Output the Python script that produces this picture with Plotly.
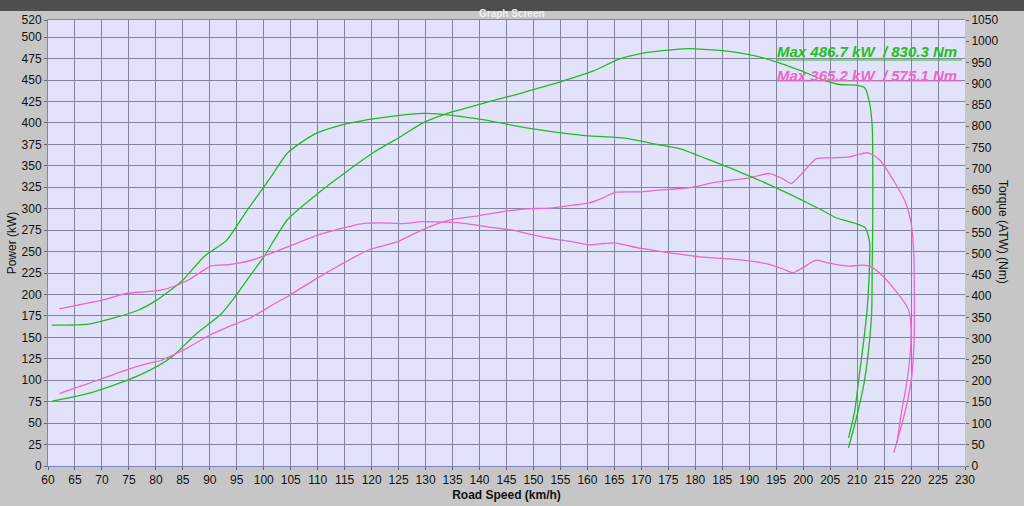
import plotly.graph_objects as go

# ---------------- data ----------------
green_power_speed = [60.8, 67.9, 75.1, 80.3, 83.1, 87.7, 92.0, 94.5, 97.6, 100.1, 104.4, 109.4, 114.0, 120.2,
                     125.5, 129.5, 133.8, 140.0, 143.1, 146.2, 151.1, 154.8, 157.3, 161.0, 166.0, 169.7, 173.1,
                     178.6, 183.9, 188.2, 191.3, 195.0, 199.3, 203.6, 206.7, 209.8, 211.4, 212.3, 212.8, 212.9,
                     212.8, 212.7, 212.2, 211.4, 210.8, 209.8, 208.4]
green_power_kw = [75.6, 85.3, 100.9, 116.4, 128.0, 155.3, 176.6, 196.0, 223.0, 244.6, 287.4, 314.6, 337.0, 365.0,
                  384.5, 400.0, 410.6, 421.5, 427.3, 432.0, 441.0, 447.5, 452.6, 460.3, 474.8, 480.6, 483.6,
                  486.7, 484.8, 481.7, 477.8, 471.3, 461.5, 450.6, 444.8, 444.0, 441.0, 423.5, 396.0, 287.4,
                  236.9, 178.6, 139.7, 100.9, 81.4, 54.2, 21.2]

green_torque_speed = [60.7, 67.9, 76.6, 80.3, 84.9, 89.0, 93.1, 97.0, 101.3, 104.4, 109.4, 114.0, 117.4, 125.5,
                      129.5, 133.2, 140.9, 149.0, 156.7, 161.0, 164.7, 167.8, 172.6, 177.7, 180.5, 188.2, 195.9,
                      203.6, 206.1, 209.8, 211.5, 212.3, 212.2, 211.8, 211.1, 210.3, 209.5, 208.4]
green_torque_nm = [331.6, 334.8, 366.1, 391.7, 436.2, 493.9, 531.1, 603.7, 679.9, 737.0, 781.4, 801.6, 810.9, 825.9,
                   830.3, 828.0, 815.0, 795.4, 782.1, 776.4, 774.2, 770.3, 758.0, 745.1, 731.0, 692.6, 649.4,
                   601.5, 584.4, 570.8, 560.7, 529.0, 439.0, 360.6, 282.1, 203.7, 125.2, 66.4]

pink_power_speed = [62.1, 66.1, 70.4, 75.1, 78.4, 80.9, 83.4, 85.9, 90.2, 94.5, 97.6, 100.7, 105.0, 110.0, 114.0,
                    119.6, 124.6, 129.5, 134.4, 140.0, 144.9, 148.7, 153.0, 157.3, 160.4, 162.9, 165.3, 169.7,
                    173.1, 178.9, 183.9, 190.0, 193.8, 196.2, 197.8, 199.9, 202.4, 205.5, 208.6, 212.0, 214.1,
                    217.2, 219.0, 220.0, 220.5, 220.6, 220.6, 220.2, 219.4, 218.2, 216.8]
pink_power_kw = [84.5, 93.0, 102.8, 113.3, 119.5, 123.0, 130.0, 137.8, 153.3, 165.0, 172.8, 184.4, 200.0, 219.4,
                 233.8, 252.4, 261.0, 275.7, 286.6, 292.0, 297.1, 299.9, 300.6, 304.1, 306.9, 312.7, 319.2, 319.7,
                 321.6, 324.4, 330.9, 336.0, 341.0, 334.9, 329.4, 341.9, 358.2, 359.3, 360.5, 365.2, 357.4,
                 328.2, 306.9, 283.5, 248.6, 209.6, 155.3, 108.7, 77.5, 46.4, 15.4]

pink_torque_speed = [62.1, 66.1, 70.1, 74.4, 77.8, 80.9, 83.4, 86.2, 90.2, 93.9, 97.6, 101.9, 106.3, 110.0, 114.0,
                     118.1, 121.5, 125.8, 129.5, 133.8, 137.5, 141.5, 146.2, 149.3, 154.2, 157.3, 160.1, 162.9,
                     165.0, 169.7, 173.1, 180.8, 188.8, 193.8, 196.5, 198.1, 199.9, 202.4, 204.6, 208.6, 211.1,
                     212.6, 214.8, 217.2, 219.2, 219.7, 220.0, 219.8, 219.1, 218.2, 217.4]
pink_torque_nm = [370.1, 380.2, 390.3, 406.1, 409.9, 413.9, 423.2, 439.0, 470.5, 474.5, 483.8, 503.4, 525.4, 543.4,
                  558.3, 570.2, 572.5, 570.8, 575.1, 574.0, 570.8, 563.2, 555.1, 545.8, 533.3, 527.8, 520.8, 523.8,
                  525.4, 512.7, 506.0, 492.5, 484.6, 474.3, 462.6, 454.9, 466.6, 484.6, 478.4, 470.5, 472.7,
                  468.9, 446.9, 411.5, 376.2, 360.6, 321.1, 258.5, 187.8, 125.2, 54.5]

power_ticks = [0, 25, 50, 75, 100, 125, 150, 175, 200, 225, 250, 275, 300, 325, 350, 375, 400, 425, 450, 475, 500, 520]
torque_ticks = list(range(0, 1051, 50))
speed_ticks = list(range(60, 231, 5))

legend_green = "Max 486.7 kW  / 830.3 Nm"
legend_pink = "Max 365.2 kW  / 575.1 Nm"

# ---------------- style ----------------
GREEN = "#22BB22"
PINK = "#EE66C8"
GRID = "#84849E"
FONT = "Arial, Liberation Sans, sans-serif"

W, H = 1024, 506
L, R, T, B = 48, 59, 20, 40
PW, PH = W - L - R, H - T - B


def px_x(p):
    return (p - L) / PW


def px_y(p):
    return (H - B - p) / PH


fig = go.Figure()
line_kw = dict(shape="spline", smoothing=0.6)
fig.add_trace(go.Scatter(x=green_torque_speed, y=green_torque_nm, yaxis="y2", mode="lines",
                         line=dict(color=GREEN, width=1.3, **line_kw), showlegend=False))
fig.add_trace(go.Scatter(x=pink_torque_speed, y=pink_torque_nm, yaxis="y2", mode="lines",
                         line=dict(color=PINK, width=1.3, **line_kw), showlegend=False))
fig.add_trace(go.Scatter(x=green_power_speed, y=green_power_kw, mode="lines",
                         line=dict(color=GREEN, width=1.3, **line_kw), showlegend=False))
fig.add_trace(go.Scatter(x=pink_power_speed, y=pink_power_kw, mode="lines",
                         line=dict(color=PINK, width=1.3, **line_kw), showlegend=False))

tickfont = dict(family=FONT, size=12, color="#111111")
fig.update_layout(
    width=W, height=H,
    margin=dict(l=L, r=R, t=T, b=B, pad=0, autoexpand=False),
    paper_bgcolor="#C6C6C6",
    plot_bgcolor="#E2E2FA",
    font=dict(family=FONT, size=12, color="#111111"),
    hovermode=False,
    xaxis=dict(range=[60, 230], tickvals=speed_ticks, showgrid=True, gridcolor=GRID, gridwidth=1,
               zeroline=False, ticks="outside", ticklen=3, tickcolor="#666666", tickfont=tickfont,
               showline=True, linecolor="#8080C8", linewidth=1, mirror=True, automargin=False,
               title=dict(text="<b>Road Speed (km/h)</b>", font=dict(family=FONT, size=12), standoff=4)),
    yaxis=dict(range=[0, 520], tickvals=power_ticks, showgrid=True, gridcolor=GRID, gridwidth=1,
               zeroline=False, ticks="outside", ticklen=3, tickcolor="#666666", tickfont=tickfont,
               showline=True, linecolor="#8080C8", linewidth=1, automargin=False,
               title=dict(text="Power (kW)", font=dict(family=FONT, size=12), standoff=2)),
    yaxis2=dict(range=[0, 1050], tickvals=torque_ticks, overlaying="y", side="right", showgrid=False,
                zeroline=False, ticks="outside", ticklen=3, tickcolor="#666666", tickfont=tickfont,
                showline=False, automargin=False),
)

# title bar
fig.add_shape(type="rect", xref="paper", yref="paper", x0=px_x(0), x1=px_x(W), y0=px_y(11), y1=px_y(0),
              fillcolor="#4E4E4E", line=dict(width=0), layer="above")
fig.add_annotation(text="<b>Graph Screen</b>", xref="paper", yref="paper", x=px_x(512), y=px_y(5.5),
                   showarrow=False, font=dict(family=FONT, size=10, color="#F0F0F0"))

# right axis title (reads top to bottom)
fig.add_annotation(text="Torque (ATW) (Nm)", xref="paper", yref="paper", x=px_x(1012), y=px_y(232),
                   textangle=90, showarrow=False, font=dict(family=FONT, size=12, color="#111111"))

# legend texts
for txt, col, yc, yl in [(legend_green, "#22C022", 52, 60), (legend_pink, "#EE66C8", 75, 81)]:
    fig.add_annotation(text="<b><i>" + txt + "</i></b>", xref="paper", yref="paper", x=px_x(775), y=px_y(yc),
                       xanchor="left", yanchor="middle", showarrow=False,
                       font=dict(family=FONT, size=15, color=col))
    fig.add_shape(type="line", xref="paper", yref="paper", x0=px_x(777), x1=px_x(962), y0=px_y(yl), y1=px_y(yl),
                  line=dict(color=col, width=1))

fig.write_html("out.html", config={"displayModeBar": False, "staticPlot": True},
               post_script="document.body.style.margin='0';document.body.style.overflow='hidden';")
